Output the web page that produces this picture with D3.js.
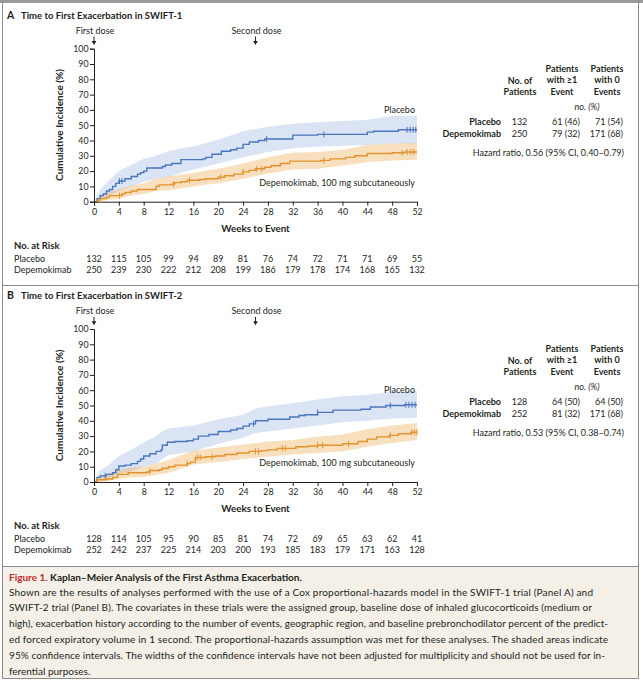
<!DOCTYPE html>
<html><head><meta charset="utf-8">
<script src="https://cdn.jsdelivr.net/npm/d3@7"></script>
<style>
body{margin:0;background:#fff}
svg{display:block}
text{font-family:Lato,"Open Sans","Noto Sans",sans-serif;fill:#231f20}
</style>
</head><body>
<svg id="c" width="643" height="680"></svg>
<script>
// ---------- DATA ----------
const xTicks = [0,4,8,12,16,20,24,28,32,36,40,44,48,52];
const yTicks = [0,10,20,30,40,50,60,70,80,90,100];
const groups = ["Placebo","Depemokimab"];

// Panel A (SWIFT-1)
const titleA = "Time to First Exacerbation in SWIFT-1";
const riskA_placebo = [132,115,105,99,94,89,81,76,74,72,71,71,69,55];
const riskA_depem   = [250,239,230,222,212,208,199,186,179,178,174,168,165,132];
const kmA_placebo = [[0,0],[0.5,2],[1,4],[1.5,5],[2,7],[2.5,8],[3,10],[3.5,12],[4,13.5],[5,15],[6,16.5],[7,18],[7.5,19],[8,20],[8.5,22],[11,23],[11.5,24],[12.5,25],[14,27.5],[17.5,28],[18,29],[19,31],[20.5,33],[22,34],[23,35],[24,37.5],[25,39],[26.5,40],[27.5,41],[32,43.5],[36,44],[44,45.5],[45,46],[49,47]];
const kmA_depem = [[0,0],[0.5,1],[1,2],[2,3],[2.5,4],[4.5,5],[5,6],[6,7],[7,8],[10,10],[10.5,11],[12.5,11.5],[13,12.5],[14,13],[15,14],[17,14.5],[18,15],[20,16],[21,17],[22.5,18],[24,19.5],[25,20.5],[26,21.5],[27.5,22.5],[28.5,23.5],[30,25],[31.5,26.5],[36.5,27],[38,28],[40.5,29],[42,30],[44,31.5],[48,32],[50,32.5]];
const ciA_placebo = [[0,0,0],[1,0.5,8],[2,3,12],[4,7,20],[6,10,24],[8,13,28],[10,15,30],[12,16,33],[14,19,35],[16,21,36],[20,25,40.5],[24,29,46],[28,32.5,49],[32,35,51],[36,36,52],[44,37,53.5],[48,38,56],[52,38,56]];
const ciA_depem = [[0,0,0],[1,0.2,3],[2,1,6],[4,2,8],[6,4,10.5],[8,5,12],[10,7,15],[12,7.5,16.5],[16,10,19],[20,12,21.5],[24,15,25],[28,18.5,29],[32,21,32],[36,21.5,32.5],[40,23.5,34],[44,26,37],[48,27,38],[52,27.5,38.5]];
const censA_placebo = [4.1,4.5,27.8,37,50.4,50.9,51.4,51.8];
const censA_depem = [4.1,12.8,15.4,20.4,24,26.2,27,37,49.6,50.4,51,51.5];
const tableA_n = [132,250];
const tableA_ev = ["61 (46)","79 (32)"];
const tableA_no = ["71 (54)","171 (68)"];
const hrA = "Hazard ratio, 0.56 (95% CI, 0.40\u20130.79)";

// Panel B (SWIFT-2)
const titleB = "Time to First Exacerbation in SWIFT-2";
const riskB_placebo = [128,114,105,95,90,85,81,74,72,69,65,63,62,41];
const riskB_depem   = [252,242,237,225,214,203,200,193,185,183,179,171,163,128];
const kmB_placebo = [[0,0],[0.5,3],[1,4],[2,5],[3,6],[3.5,8],[4,10.5],[5,11],[6,12],[7,13.5],[7.5,15],[8,17],[9,18.5],[10,20],[10.8,21],[11,24],[11.8,26],[13,26.5],[15,27],[16,28],[16.8,30],[18.5,31],[20,33],[22,34],[23,35],[24,36.5],[25,38],[26,40],[28,41],[31.5,42.5],[33,43.5],[34,44],[36,45.5],[38.5,47],[43,47.5],[44.5,49],[47,50],[50,50.5]];
const kmB_depem = [[0,0],[0.5,1.5],[2,2],[3,3],[3.8,5],[5.5,6],[8.5,6.5],[9,7.5],[10.5,8],[11,9],[12,10],[13,11],[15,12],[15.5,13],[16.3,16],[18,16.5],[19.5,17],[21,18],[23,19],[25,20],[27,20.5],[28,21],[29.5,22],[32.5,23],[34.5,23.5],[36,24],[40,25],[42.5,26.5],[44,28],[45.5,29.5],[47.5,30.5],[49,31.5],[51,32.5]];
const ciB_placebo = [[0,0,0],[1,1,8],[2,2,10],[4,5.5,17],[6,7,21],[8,10,26],[10,12,30],[11,15,33],[12,17.5,35],[16,20,37],[20,25,41],[24,29,44],[26,32,48],[28,33,49.5],[32,35,51.5],[36,37,54],[40,39,56],[44,40,57],[48,41.5,59],[52,42,59.5]];
const ciB_depem = [[0,0,0],[1,0.2,4],[2,0.5,5],[4,2,8],[6,3,9.5],[8,3.5,10],[10,4.5,12],[12,6,14.5],[16,11.5,20.5],[20,13,22.5],[24,15,24.5],[28,16.5,26.5],[32,18,27.5],[36,19,29.5],[40,20,31],[44,23,34.5],[48,25.5,37],[52,27.5,38.5]];
const censB_placebo = [1.8,25.7,36,47.7,50.2,50.7,51.2,51.7];
const censB_depem = [9,15,16.6,17.1,19,26,26.5,30.3,30.8,36,36.8,41,47.7,51.2,51.6,52];
const tableB_n = [128,252];
const tableB_ev = ["64 (50)","81 (32)"];
const tableB_no = ["64 (50)","171 (68)"];
const hrB = "Hazard ratio, 0.53 (95% CI, 0.38\u20130.74)";

const captionHead = "Figure 1.";
const captionTitle = "Kaplan\u2013Meier Analysis of the First Asthma Exacerbation.";
const captionLines = [
 "Shown are the results of analyses performed with the use of a Cox proportional-hazards model in the SWIFT-1 trial (Panel A) and",
 "SWIFT-2 trial (Panel B). The covariates in these trials were the assigned group, baseline dose of inhaled glucocorticoids (medium or",
 "high), exacerbation history according to the number of events, geographic region, and baseline prebronchodilator percent of the predict-",
 "ed forced expiratory volume in 1 second. The proportional-hazards assumption was met for these analyses. The shaded areas indicate",
 "95% confidence intervals. The widths of the confidence intervals have not been adjusted for multiplicity and should not be used for in-",
 "ferential purposes."
];

// ---------- STYLE ----------
const BLUE = "#4a76c0", BLUE_FILL = "rgba(120,156,215,0.27)";
const ORANGE = "#e3922d", ORANGE_FILL = "rgba(236,165,70,0.35)";
const GRID = "#8c8c8c";

const svg = d3.select("#c");

// frame
svg.append("rect").attr("x",0).attr("y",0).attr("width",643).attr("height",680).attr("fill","#fff");
svg.append("rect").attr("x",2.5).attr("y",566.5).attr("width",636).attr("height",112).attr("fill","#f4f0e8");
svg.append("line").attr("x1",0).attr("x2",643).attr("y1",1.5).attr("y2",1.5).attr("stroke","#9a9a9a").attr("stroke-width",3);
[[2.5,2.5,0,679],[638.5,638.5,0,679]].forEach(d=>svg.append("line").attr("x1",d[0]).attr("x2",d[1]).attr("y1",d[2]).attr("y2",d[3]).attr("stroke",GRID));
[285.5,566.5,678.5].forEach(yy=>svg.append("line").attr("x1",2.5).attr("x2",638.5).attr("y1",yy).attr("y2",yy).attr("stroke",GRID));

const x = d3.scaleLinear().domain([0,52]).range([94,417]);

function stepVal(km,w){let v=0;for(const p of km){if(p[0]<=w)v=p[1];}return v;}

function panel(cfg){
  const g = svg.append("g").attr("transform",`translate(0,${cfg.dy})`);
  const y = d3.scaleLinear().domain([0,100]).range([201.7,48.7]);

  g.append("text").attr("x",7).attr("y",18.5).attr("font-size",10.5).attr("font-weight",700).text(cfg.letter);
  g.append("text").attr("x",21).attr("y",18.5).attr("font-size",9.5).attr("font-weight",700).text(cfg.title);

  // dose arrows
  [[0,"First dose"],[26,"Second dose"]].forEach(([w,t])=>{
    g.append("text").attr("x",x(w)+1).attr("y",34).attr("text-anchor","middle").attr("font-size",9).text(t);
    g.append("line").attr("x1",x(w)).attr("x2",x(w)).attr("y1",36.5).attr("y2",43.5).attr("stroke","#231f20").attr("stroke-width",1);
    g.append("path").attr("d",`M${x(w)-2.3},41 L${x(w)+2.3},41 L${x(w)},45 Z`).attr("fill","#231f20");
  });

  // CI bands
  const area = d3.area().x(d=>x(d[0])).y0(d=>y(d[1])).y1(d=>y(d[2])).curve(d3.curveLinear);
  g.append("path").attr("d",area(cfg.ciP)).attr("fill",BLUE_FILL);
  g.append("path").attr("d",area(cfg.ciD)).attr("fill",ORANGE_FILL);

  // KM lines
  const line = d3.line().x(d=>x(d[0])).y(d=>y(d[1])).curve(d3.curveStepAfter);
  [[cfg.kmP,BLUE,cfg.cP],[cfg.kmD,ORANGE,cfg.cD]].forEach(([km,col,cens])=>{
    const pts = km.concat([[52,km[km.length-1][1]]]);
    g.append("path").attr("d",line(pts)).attr("fill","none").attr("stroke",col).attr("stroke-width",1.4);
    cens.forEach(w=>{
      const yy=y(stepVal(km,w));
      g.append("line").attr("x1",x(w)).attr("x2",x(w)).attr("y1",yy-3).attr("y2",yy+3).attr("stroke",col).attr("stroke-width",1);
    });
  });

  // axes
  const yAxis = d3.axisLeft(y).tickValues(yTicks).tickSize(4).tickPadding(1.5);
  const ya = g.append("g").attr("transform","translate(94,0)").call(yAxis);
  const xAxis = d3.axisBottom(x).tickValues(xTicks).tickSize(4).tickPadding(3);
  const xa = g.append("g").attr("transform","translate(0,201.7)").call(xAxis);
  [ya,xa].forEach(a=>{
    a.select(".domain").attr("stroke","#231f20");
    a.selectAll(".tick line").attr("stroke","#231f20");
    a.selectAll(".tick text").attr("font-size",8.8).attr("font-family","Lato,sans-serif").attr("fill","#231f20");
  });

  g.append("text").attr("transform","translate(63,125) rotate(-90)").attr("text-anchor","middle").attr("font-size",10).attr("font-weight",700).text("Cumulative Incidence (%)");
  g.append("text").attr("x",255.5).attr("y",232).attr("text-anchor","middle").attr("font-size",9.8).attr("font-weight",700).text("Weeks to Event");

  // series labels
  g.append("text").attr("x",415).attr("y",113).attr("text-anchor","end").attr("font-size",9).text("Placebo");
  g.append("text").attr("x",415).attr("y",186).attr("text-anchor","end").attr("font-size",9).text("Depemokimab, 100 mg subcutaneously");

  // at risk
  g.append("text").attr("x",14).attr("y",249).attr("font-size",9.5).attr("font-weight",700).text("No. at Risk");
  [[groups[0],cfg.rP,262],[groups[1],cfg.rD,273]].forEach(([lab,vals,yy])=>{
    g.append("text").attr("x",14).attr("y",yy).attr("font-size",9).text(lab);
    g.selectAll(null).data(vals).enter().append("text")
      .attr("x",(d,i)=>x(xTicks[i])).attr("y",yy).attr("text-anchor","middle").attr("font-size",9).text(d=>d);
  });

  // side table
  const hdr = (xx,lines,y0)=>lines.forEach((t,i)=>g.append("text").attr("x",xx).attr("y",y0+i*11.7).attr("text-anchor","middle").attr("font-size",9).attr("font-weight",700).text(t));
  hdr(520,["No. of","Patients"],83.5);
  hdr(562,["Patients","with \u22651","Event"],71.5);
  hdr(607,["Patients","with 0","Events"],71.5);
  g.append("text").attr("x",587).attr("y",110).attr("text-anchor","middle").attr("font-size",9).attr("font-style","italic").text("no. (%)");
  [[groups[0],125],[groups[1],136.5]].forEach(([lab,yy],i)=>{
    g.append("text").attr("x",501).attr("y",yy).attr("text-anchor","end").attr("font-size",9).attr("font-weight",700).text(lab);
    g.append("text").attr("x",519.5).attr("y",yy).attr("text-anchor","middle").attr("font-size",9).text(cfg.tn[i]);
    g.append("text").attr("x",580).attr("y",yy).attr("text-anchor","end").attr("font-size",9).text(cfg.tev[i]);
    g.append("text").attr("x",623).attr("y",yy).attr("text-anchor","end").attr("font-size",9).text(cfg.tno[i]);
  });
  g.append("text").attr("x",624).attr("y",156).attr("text-anchor","end").attr("font-size",9).text(cfg.hr);
}

panel({dy:0,letter:"A",title:titleA,kmP:kmA_placebo,kmD:kmA_depem,ciP:ciA_placebo,ciD:ciA_depem,cP:censA_placebo,cD:censA_depem,rP:riskA_placebo,rD:riskA_depem,tn:tableA_n,tev:tableA_ev,tno:tableA_no,hr:hrA});
panel({dy:280.3,letter:"B",title:titleB,kmP:kmB_placebo,kmD:kmB_depem,ciP:ciB_placebo,ciD:ciB_depem,cP:censB_placebo,cD:censB_depem,rP:riskB_placebo,rD:riskB_depem,tn:tableB_n,tev:tableB_ev,tno:tableB_no,hr:hrB});

// caption
const cap = svg.append("g");
const t0 = cap.append("text").attr("x",9).attr("y",580.5).attr("font-size",10).attr("font-weight",700);
t0.append("tspan").attr("fill","#c1272d").text(captionHead+" ");
t0.append("tspan").text(captionTitle);
const capW = [584,583,599,599,596,null];
captionLines.forEach((t,i)=>{
  const tt = cap.append("text").attr("x",9).attr("y",595.5+i*15.9).attr("font-size",10).text(t);
  if(capW[i]) tt.attr("textLength",capW[i]).attr("lengthAdjust","spacing");
});
</script>
</body></html>
